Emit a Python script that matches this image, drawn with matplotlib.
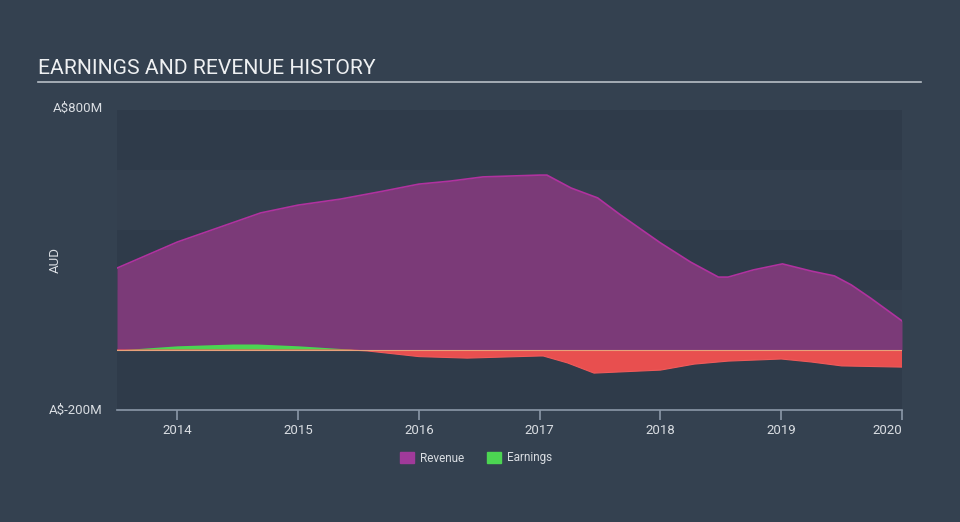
import numpy as np
import matplotlib.pyplot as plt
from matplotlib.patches import Patch

plt.rcParams['font.family'] = ['Roboto', 'DejaVu Sans']

# Revenue (A$ millions)
rev_years = [2013.5, 2014.0, 2014.69, 2015.0, 2015.35, 2015.71, 2016.0, 2016.26,
             2016.53, 2017.0, 2017.06, 2017.26, 2017.48, 2017.67, 2018.0, 2018.25,
             2018.48, 2018.56, 2018.77, 2019.01, 2019.25, 2019.44, 2019.58, 2019.74,
             2020.0]
revenue = [273, 360, 457, 483, 503, 530, 553, 563,
           577, 583, 583, 540, 507, 450, 357, 293,
           243, 243, 267, 287, 263, 247, 217, 173,
           97]

# Earnings (A$ millions)
earn_years = [2013.5, 2014.0, 2014.46, 2014.66, 2015.0, 2015.43, 2015.57, 2016.0,
              2016.4, 2016.82, 2017.0, 2017.03, 2017.23, 2017.45, 2017.67, 2018.0,
              2018.28, 2018.56, 2019.0, 2019.25, 2019.5, 2020.0]
earnings = [0, 14, 20, 20, 14, 3, -3, -22,
            -27, -22, -20, -20, -43, -77, -73, -67,
            -47, -37, -30, -40, -53, -57]

x_ticks = [2014, 2015, 2016, 2017, 2018, 2019, 2020]

bg = '#344150'
band_dark = '#2f3b4a'
band_light = '#333f4e'
text_col = '#d9dde2'
rev_fill = '#7b3a78'
rev_line = '#b0329f'
earn_pos = '#4cd552'
earn_neg = '#e84f4f'

fig = plt.figure(figsize=(9.6, 5.22), dpi=100, facecolor=bg)
ax = fig.add_axes([117 / 960, 1 - 410 / 522, (902 - 117) / 960, 300 / 522])
ax.set_facecolor(bg)

ax.set_xlim(2013.5, 2020.0)
ax.set_ylim(-200, 800)

# alternating horizontal bands
for i, lo in enumerate(range(-200, 800, 200)):
    ax.axhspan(lo, lo + 200, color=band_dark if i % 2 == 0 else band_light,
               lw=0, zorder=0)

# revenue area
ax.fill_between(rev_years, 0, revenue, color=rev_fill, lw=0, zorder=2)
ax.plot(rev_years, revenue, color=rev_line, lw=1.2, zorder=3)

# earnings area, green above zero, red below
ey = np.array(earnings, dtype=float)
ax.fill_between(earn_years, 0, ey, where=ey >= 0, interpolate=True,
                color=earn_pos, lw=0, zorder=4)
ax.fill_between(earn_years, 0, ey, where=ey <= 0, interpolate=True,
                color=earn_neg, lw=0, zorder=4)
ax.plot(earn_years, np.minimum(ey, 0), color='#f05a5a', lw=0.8, zorder=5)
ax.axhline(0, color='#e8a07a', lw=0.8, zorder=5)

for s in ['top', 'right', 'left']:
    ax.spines[s].set_visible(False)
ax.spines['bottom'].set_color('#8b98a8')
ax.spines['bottom'].set_linewidth(1.2)

ax.set_xticks(x_ticks)
ax.set_xticklabels([str(y) for y in x_ticks])
ax.tick_params(axis='x', colors='#8b98a8', labelcolor=text_col, labelsize=9.5,
               length=7, width=1.2, pad=3)
ax.get_xticklabels()[-1].set_ha('right')
ax.set_yticks([])

# y labels only at the ends
fig.text(103 / 960, 1 - 108 / 522, 'A$800M', color=text_col, fontsize=9.5,
         ha='right', va='center')
fig.text(103 / 960, 1 - 410 / 522, 'A$-200M', color=text_col, fontsize=9.5,
         ha='right', va='center')
fig.text(55 / 960, 1 - 260 / 522, 'AUD', color=text_col, fontsize=9.5,
         rotation=90, ha='center', va='center')

# title with underline
fig.text(38 / 960, 1 - 69 / 522, 'EARNINGS AND REVENUE HISTORY', color='#eef0f2',
         fontsize=15.2, ha='left', va='center')
fig.add_artist(plt.Line2D([38 / 960, 921 / 960], [1 - 82 / 522, 1 - 82 / 522],
                          color='#b8bec6', lw=1.2))

handles = [Patch(color='#a03a9a', label='Revenue'),
           Patch(color=earn_pos, label='Earnings')]
leg = fig.legend(handles=handles, loc='center', bbox_to_anchor=(476 / 960, 1 - 458 / 522),
                 ncol=2, frameon=False, fontsize=8.5, handlelength=1.2, handleheight=1.0,
                 columnspacing=1.9, handletextpad=0.5)
for t in leg.get_texts():
    t.set_color(text_col)

plt.savefig('out.png', dpi=100, facecolor=bg)
